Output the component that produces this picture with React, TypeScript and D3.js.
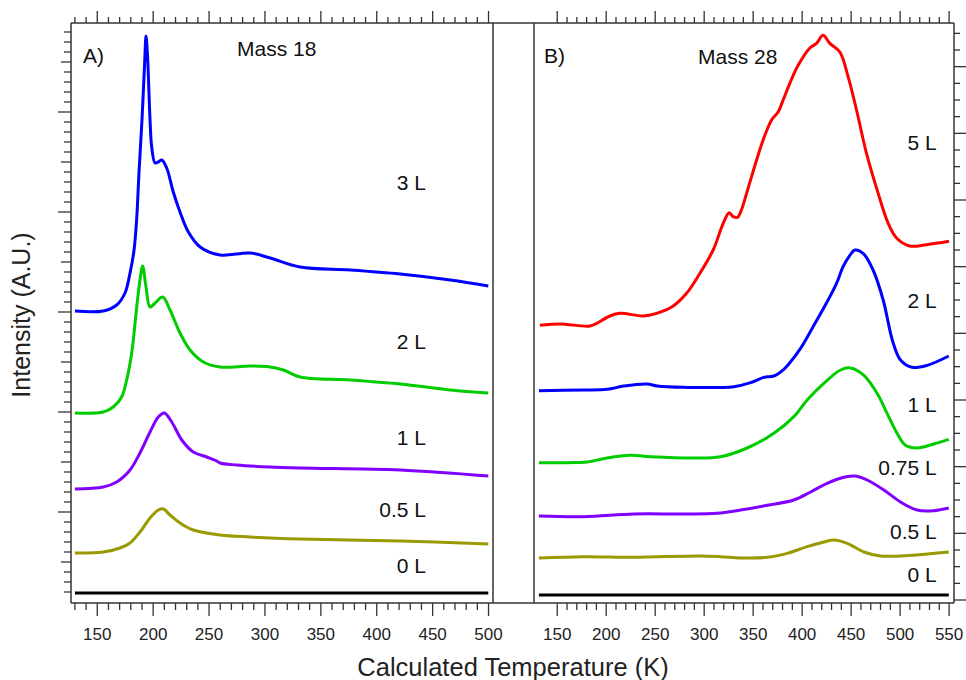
import React from "react";
import * as d3 from "d3";

type P = [number, number];

// Panel A: Mass 18 (temperature K, intensity a.u.)
const a3L: P[] = [[130,3.01],[155.4,3.01],[167.4,3.07],[174.8,3.19],[179.3,3.39],[182.9,3.62],[185.3,3.94],[187.3,4.39],[190,4.92],[192.4,5.5],[193.6,5.76],[195,5.55],[197.2,4.92],[198.7,4.65],[201.7,4.49],[204.5,4.5],[207.7,4.52],[212.1,4.44],[218,4.2],[224,4.0],[231.5,3.8],[242,3.65],[259.8,3.57],[286.7,3.59],[304.6,3.54],[331.5,3.45],[376.2,3.42],[421,3.38],[465.8,3.32],[499.8,3.26]];
const a2L: P[] = [[130,1.99],[155.4,2.0],[164.3,2.05],[171.8,2.15],[176.3,2.32],[180.8,2.59],[185.3,3.05],[188.2,3.32],[190.6,3.46],[193.6,3.25],[197.2,3.05],[201.7,3.09],[208.5,3.15],[215.1,3.02],[224,2.79],[233,2.62],[244.9,2.5],[259.8,2.45],[286.7,2.46],[304.6,2.45],[316.5,2.42],[331.5,2.35],[376.2,2.32],[421,2.28],[465.8,2.22],[499.8,2.19]];
const a1L: P[] = [[130,1.23],[155.4,1.25],[167.4,1.3],[179.3,1.42],[188.2,1.59],[197.2,1.8],[204.6,1.95],[210,1.99],[216.6,1.9],[225.6,1.72],[235.9,1.6],[247.9,1.55],[256.9,1.51],[259.8,1.49],[274.8,1.47],[304.6,1.45],[331.5,1.44],[421,1.42],[499.8,1.36]];
const a05L: P[] = [[130,0.59],[155.4,0.6],[170.3,0.64],[179.3,0.69],[188.2,0.8],[197.2,0.94],[204.6,1.02],[209.1,1.03],[215.1,0.97],[224,0.89],[235.9,0.82],[259.8,0.77],[286.7,0.75],[331.5,0.73],[421,0.71],[499.8,0.68]];
const a0L: P[] = [[130,0.19],[250,0.19],[380,0.19],[499.8,0.19]];

// Panel B: Mass 28
const b5L: P[] = [[132.3,5.12],[152.8,5.14],[183.4,5.11],[190.2,5.15],[203.8,5.26],[214,5.3],[237.8,5.26],[251.4,5.3],[268.4,5.41],[282,5.6],[295.6,5.9],[309.2,6.25],[319.4,6.65],[325.5,6.81],[329.6,6.75],[334,6.74],[338,6.85],[343.3,7.1],[353.5,7.6],[360.2,7.9],[368.8,8.2],[375.5,8.32],[380.6,8.5],[387.4,8.75],[395.9,9.02],[407.9,9.28],[414.7,9.35],[421.4,9.47],[428.3,9.35],[438.5,9.22],[446.9,8.85],[455.5,8.35],[465.7,7.7],[477.6,7.1],[487.8,6.65],[496.3,6.43],[509.9,6.31],[527,6.33],[550,6.38]];
const b2L: P[] = [[131.3,4.14],[177.2,4.15],[201,4.16],[218.1,4.21],[241.8,4.24],[252,4.21],[279.3,4.19],[330.3,4.2],[347.3,4.26],[360.9,4.34],[371.1,4.36],[381.3,4.46],[386.4,4.54],[398.2,4.77],[411.2,5.1],[426.5,5.5],[435.1,5.75],[441.8,6.0],[448.7,6.17],[453.8,6.25],[462.2,6.2],[472.4,5.95],[482.7,5.5],[492.6,4.87],[500.4,4.6],[512.2,4.49],[527.6,4.52],[549.7,4.66]];
const b1L: P[] = [[131.3,3.06],[160.2,3.06],[180.6,3.07],[201,3.13],[224.9,3.17],[245.3,3.15],[289.5,3.13],[316.7,3.15],[343.9,3.28],[371.1,3.5],[391.5,3.75],[405.1,4.0],[422.1,4.25],[439.2,4.45],[449.4,4.48],[463,4.37],[476.5,4.1],[486.7,3.8],[496.9,3.5],[505.5,3.32],[517.3,3.28],[534.4,3.34],[549.7,3.41]];
const b075L: P[] = [[131.3,2.26],[177.2,2.25],[228.3,2.29],[279.3,2.29],[313.3,2.3],[337.1,2.35],[364.3,2.42],[391.5,2.5],[408.6,2.62],[425.5,2.75],[442.6,2.84],[454.5,2.86],[466.3,2.8],[483.4,2.65],[500.4,2.47],[517.3,2.35],[534.4,2.34],[549.7,2.38]];
const b05L: P[] = [[131.3,1.63],[177.2,1.65],[228.3,1.64],[296.3,1.66],[316.7,1.65],[337.1,1.63],[364.3,1.64],[384.7,1.7],[405.1,1.8],[422.1,1.87],[432.3,1.9],[445.9,1.85],[463,1.72],[479.9,1.66],[500.4,1.66],[549.7,1.72]];
const b0L: P[] = [[131.3,1.075],[300,1.075],[450,1.075],[549.7,1.075]];

const seriesA = [a3L, a2L, a1L, a05L, a0L];
const seriesB = [b5L, b2L, b1L, b075L, b05L, b0L];
const colorsA = ["#0000ff", "#00cc00", "#7f00ff", "#999900", "#000000"];
const colorsB = ["#ff0000", "#0000ff", "#00cc00", "#7f00ff", "#999900", "#000000"];

const labelsA = ["3 L", "2 L", "1 L", "0.5 L", "0 L"];
const labelValA = [4.22, 2.63, 1.67, 0.95, 0.39];
const labelsB = ["5 L", "2 L", "1 L", "0.75 L", "0.5 L", "0 L"];
const labelValB = [7.75, 5.38, 3.82, 2.875, 1.915, 1.27];

const xTicksA = [150, 200, 250, 300, 350, 400, 450, 500];
const xTicksB = [150, 200, 250, 300, 350, 400, 450, 500, 550];

const FONT = "'Liberation Sans', Arial, sans-serif";
const FRAME = "#333";

export default function App() {
  const L = 71, R1 = 493, L2 = 534, R = 954, T = 23, B = 603;
  const xA = d3.scaleLinear().domain([126.5, 504]).range([L, R1]);
  const xB = d3.scaleLinear().domain([126.3, 555]).range([L2, R]);
  const yA = d3.scaleLinear().domain([0.09, 5.89]).range([B, T]);
  const yB = d3.scaleLinear().domain([0.955, 9.655]).range([B, T]);

  const curve = d3.curveCatmullRom.alpha(0.5);
  const lineA = d3.line<P>().x(d => xA(d[0])).y(d => yA(d[1])).curve(curve);
  const lineB = d3.line<P>().x(d => xB(d[0])).y(d => yB(d[1])).curve(curve);

  const minorA = d3.range(130, 501, 10);
  const minorB = d3.range(150, 551, 10);
  const yTicksA = d3.range(2, 59, 1).map(i => i / 10);
  const yTicksB = d3.range(4, 39, 1).map(i => i / 4);

  const ticks: React.ReactNode[] = [];
  const xt = (scale: any, vals: number[], key: string) => {
    vals.forEach(v => {
      const major = v % 50 === 0;
      const x = scale(v);
      const len = major ? 12 : 6;
      ticks.push(<line key={key + "b" + v} x1={x} x2={x} y1={B} y2={B + len + 1} stroke={FRAME} strokeWidth={1.3} />);
      ticks.push(<line key={key + "t" + v} x1={x} x2={x} y1={T} y2={T - len} stroke={FRAME} strokeWidth={1.3} />);
    });
  };
  xt(xA, minorA, "a");
  xt(xB, minorB, "b");
  yTicksA.forEach(v => {
    const i = Math.round(v * 10);
    const len = i % 10 === 0 ? 13 : i % 5 === 0 ? 10 : 7;
    const y = yA(v);
    ticks.push(<line key={"ya" + i} x1={L} x2={L - len} y1={y} y2={y} stroke={FRAME} strokeWidth={1.3} />);
  });
  yTicksB.forEach(v => {
    const i = Math.round(v * 4);
    const len = i % 4 === 0 ? 12 : 6;
    const y = yB(v);
    ticks.push(<line key={"yb" + i} x1={R} x2={R + len} y1={y} y2={y} stroke={FRAME} strokeWidth={1.3} />);
  });

  return (
    <svg width={966} height={680} style={{ position: "absolute", left: 0, top: 0, background: "#fff" }} fontFamily={FONT}>
      <rect x={0} y={0} width={966} height={680} fill="#fff" />
      {seriesA.map((s, i) => (
        <path key={"A" + i} d={lineA(s) || ""} fill="none" stroke={colorsA[i]} strokeWidth={3} strokeLinejoin="round" />
      ))}
      {seriesB.map((s, i) => (
        <path key={"B" + i} d={lineB(s) || ""} fill="none" stroke={colorsB[i]} strokeWidth={3} strokeLinejoin="round" />
      ))}
      <line x1={L} x2={R} y1={T} y2={T} stroke={FRAME} strokeWidth={1.5} />
      <line x1={L} x2={R} y1={B} y2={B} stroke={FRAME} strokeWidth={1.5} />
      <line x1={L} x2={L} y1={T} y2={B} stroke={FRAME} strokeWidth={1.5} />
      <line x1={R1} x2={R1} y1={T} y2={B} stroke={FRAME} strokeWidth={1.5} />
      <line x1={L2} x2={L2} y1={T} y2={B} stroke={FRAME} strokeWidth={1.5} />
      <line x1={R} x2={R} y1={T} y2={B} stroke={FRAME} strokeWidth={1.5} />
      {ticks}
      {xTicksA.map(v => (
        <text key={"xla" + v} x={xA(v)} y={640} fontSize={17} textAnchor="middle" fill="#222">{v}</text>
      ))}
      {xTicksB.map(v => (
        <text key={"xlb" + v} x={xB(v)} y={640} fontSize={17} textAnchor="middle" fill="#222">{v}</text>
      ))}
      <text x={513} y={676} fontSize={25.5} textAnchor="middle" fill="#222">Calculated Temperature (K)</text>
      <text transform={`translate(30,${(T + B) / 2 + 2}) rotate(-90)`} fontSize={25} textAnchor="middle" fill="#222">Intensity (A.U.)</text>
      <text x={83} y={63} fontSize={21} fill="#111">A)</text>
      <text x={544} y={63} fontSize={21} fill="#111">B)</text>
      <text x={237} y={56} fontSize={21} fill="#111">Mass 18</text>
      <text x={698} y={64} fontSize={21} fill="#111">Mass 28</text>
      {labelsA.map((t, i) => (
        <text key={"la" + i} x={xA(444)} y={yA(labelValA[i])} fontSize={21} textAnchor="end" fill="#111">{t}</text>
      ))}
      {labelsB.map((t, i) => (
        <text key={"lb" + i} x={xB(537.4)} y={yB(labelValB[i])} fontSize={21} textAnchor="end" fill="#111">{t}</text>
      ))}
    </svg>
  );
}
